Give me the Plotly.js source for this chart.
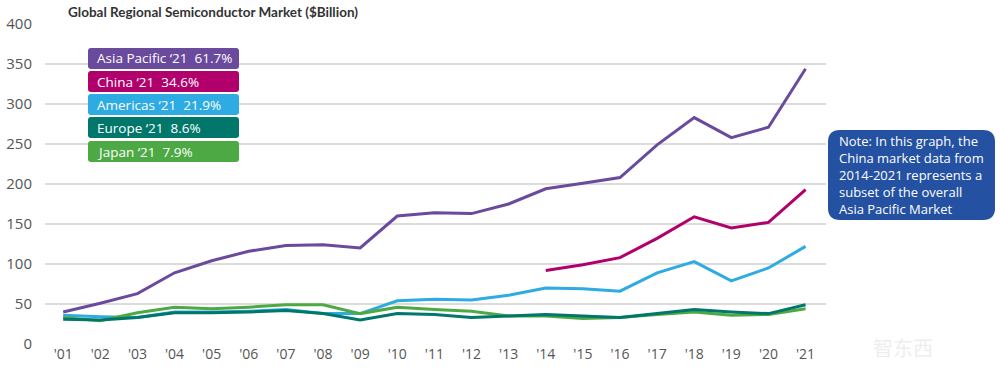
<!DOCTYPE html>
<html><head><meta charset="utf-8">
<script src="https://cdn.plot.ly/plotly-3.0.1.min.js"></script>
<style>html,body{margin:0;padding:0;background:#fff}#chart{width:1000px;height:369px}</style>
</head><body><div id="chart"></div>
<script>
const years = ["'01","'02","'03","'04","'05","'06","'07","'08","'09","'10","'11","'12","'13","'14","'15","'16","'17","'18","'19","'20","'21"];
const asiaPacific = [40,51,63,89,104,116,123,124,120,160,164,163,175,194,201,208,249,283,258,271,344];
const china = [null,null,null,null,null,null,null,null,null,null,null,null,null,92,99,108,132,159,145,152,193];
const americas = [36,34,33,40,40,41,43,38,38,54,56,55,61,70,69,66,89,103,79,95,122];
const europe = [31,30,33,39,39,40,42,38,30,38,37,33,35,37,35,33,38,43,40,38,49];
const japan = [33,29,39,46,44,46,49,49,38,46,43,41,35,35,32,33,37,40,36,37,44];
const legendLabels = ["Asia Pacific \u201821  61.7%","China \u201821  34.6%","Americas \u201821  21.9%","Europe \u201821  8.6%","Japan \u201821  7.9%"];
const colors = ["#6A4A9C","#B1006C","#2DABE2","#00776A","#4DA944"];
const noteText = "Note: In this graph, the<br>China market data from<br>2014-2021 represents a<br>subset of the overall<br>Asia Pacific Market";

const M = {l:45, r:174, t:24, b:25};
const W = 1000, H = 369;
const PW = W - M.l - M.r, PH = H - M.t - M.b;
const px = x => (x - M.l) / PW;
const py = y => (H - M.b - y) / PH;

function roundRect(x0,y0,x1,y1,r){
  const X = v => px(v).toFixed(5), Y = v => py(v).toFixed(5);
  return `M ${X(x0+r)} ${Y(y0)} L ${X(x1-r)} ${Y(y0)} Q ${X(x1)} ${Y(y0)} ${X(x1)} ${Y(y0+r)} ` +
         `L ${X(x1)} ${Y(y1-r)} Q ${X(x1)} ${Y(y1)} ${X(x1-r)} ${Y(y1)} ` +
         `L ${X(x0+r)} ${Y(y1)} Q ${X(x0)} ${Y(y1)} ${X(x0)} ${Y(y1-r)} ` +
         `L ${X(x0)} ${Y(y0+r)} Q ${X(x0)} ${Y(y0)} ${X(x0+r)} ${Y(y0)} Z`;
}

const series = [asiaPacific, china, americas, europe, japan];
const order = [0,1,2,4,3];
const traces = order.map(i => ({
  x: years, y: series[i], type:'scatter', mode:'lines',
  line:{color:colors[i], width:3}, connectgaps:false, hoverinfo:'skip'
}));

const shapes = [], annotations = [];
const boxTops = [48,71,94,117,141];
legendLabels.forEach((t,i) => {
  shapes.push({type:'path', xref:'paper', yref:'paper', path: roundRect(88, boxTops[i], 239, boxTops[i]+21, 3),
    fillcolor: colors[i], line:{width:0}, layer:'above'});
  annotations.push({xref:'paper', yref:'paper', x: px(95), y: py(boxTops[i]+10.5), xanchor:'left', yanchor:'middle',
    text: t, showarrow:false, font:{family:'Open Sans, sans-serif', size:13.5, color:'#ffffff'}});
});
shapes.push({type:'path', xref:'paper', yref:'paper', path: roundRect(828,130,995,220,12),
  fillcolor:'#2451A2', line:{width:0}, layer:'above'});
annotations.push({xref:'paper', yref:'paper', x: px(837), y: py(175), xanchor:'left', yanchor:'middle', align:'left',
  text: noteText, showarrow:false, font:{family:'Open Sans, sans-serif', size:13, color:'#ffffff'}});
annotations.push({xref:'paper', yref:'paper', x: px(903), y: py(347), xanchor:'center', yanchor:'middle',
  text: '智东西', showarrow:false, font:{family:'Noto Sans CJK SC, sans-serif', size:20, color:'rgba(215,215,215,0.45)'}});

const layout = {
  width: W, height: H, margin: M,
  paper_bgcolor:'#ffffff', plot_bgcolor:'#ffffff', showlegend:false,
  title:{text:'<b>Global Regional Semiconductor Market ($Billion)</b>', x: 68/W, xanchor:'left', y: 1-12/H, yanchor:'middle',
    font:{family:'Lato, sans-serif', size:13.5, color:'#333333'}},
  xaxis:{type:'category', range:[-0.49, 20.55], showgrid:false, zeroline:false, showline:false, ticks:'',
    tickfont:{family:'Open Sans, sans-serif', size:14, color:'#555555'}, fixedrange:true},
  yaxis:{range:[0,400], dtick:50, showgrid:true, gridcolor:'#dcdcdc', gridwidth:1.5, zeroline:false, showline:false,
    ticks:'', ticklabelstandoff:12, tickfont:{family:'Open Sans, sans-serif', size:15, color:'#555555'}, fixedrange:true},
  shapes, annotations
};
Plotly.newPlot('chart', traces, layout, {displayModeBar:false, staticPlot:true});
</script></body></html>
